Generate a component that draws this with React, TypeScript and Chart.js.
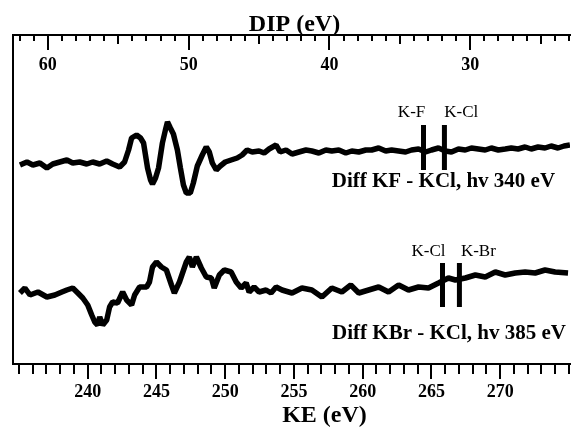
import React, { useEffect, useRef } from 'react';
import { Chart, registerables } from 'chart.js';

Chart.register(...registerables);

// ---- Data ----
// Kinetic energy (eV) and difference signal (arb. units) for Diff KF - KCl, hv 340 eV
const KE_KF = [
  235.07, 235.58, 236.01, 236.52, 237.03, 237.46, 237.97, 238.48, 238.91, 239.42,
  239.93, 240.36, 240.87, 241.38, 241.81, 242.32, 242.68, 242.97, 243.19, 243.55,
  243.84, 244.06, 244.35, 244.57, 244.71, 244.93, 245.15, 245.43, 245.65, 245.8,
  246.01, 246.23, 246.52, 246.74, 246.96, 247.17, 247.46, 247.68, 247.97, 248.33,
  248.62, 248.84, 249.06, 249.35, 249.64, 250.0, 250.43, 250.87, 251.23, 251.59,
  251.96, 252.46, 252.83, 253.19, 253.7, 253.99, 254.42, 254.86, 255.36, 255.87,
  256.3, 256.81, 257.32, 257.75, 258.26, 258.77, 259.2, 259.71, 260.22, 260.65,
  261.16, 261.67, 262.1, 262.61, 263.12, 263.55, 264.06, 264.57, 265.0, 265.51,
  266.01, 266.45, 266.96, 267.46, 267.9, 268.41, 268.91, 269.35, 269.86, 270.36,
  270.8, 271.3, 271.81, 272.25, 272.75, 273.26, 273.7, 274.2, 274.64, 275.07,
];
const DIFF_KF = [
  199, 202, 199, 201, 196, 200, 202, 204, 201, 202,
  200, 202, 200, 203, 200, 197, 202, 214, 226, 229,
  226, 221, 196, 184, 180, 186, 196, 221, 234, 242,
  236, 230, 214, 196, 179, 171, 171, 181, 198, 209,
  217, 212, 201, 194, 198, 202, 204, 206, 209, 214,
  212, 213, 211, 215, 219, 212, 214, 210, 212, 214,
  213, 211, 214, 213, 214, 211, 213, 212, 214, 214,
  216, 213, 214, 213, 212, 214, 215, 212, 214, 216,
  213, 212, 215, 214, 216, 215, 214, 216, 214, 215,
  216, 215, 217, 215, 217, 216, 218, 216, 218, 219,
];

// Kinetic energy (eV) and difference signal (arb. units) for Diff KBr - KCl, hv 385 eV
const KE_KBR = [
  235.07, 235.43, 235.8, 236.38, 237.03, 237.61, 238.12, 238.48, 238.91, 239.28,
  239.64, 240.0, 240.29, 240.51, 240.72, 240.87, 241.09, 241.38, 241.59, 241.81,
  242.17, 242.54, 242.83, 243.19, 243.41, 243.77, 244.28, 244.49, 244.71, 245.0,
  245.36, 245.72, 246.09, 246.3, 246.67, 247.17, 247.39, 247.61, 247.9, 248.26,
  248.62, 248.99, 249.2, 249.57, 249.93, 250.43, 250.8, 251.16, 251.52, 251.74,
  252.1, 252.46, 252.97, 253.33, 253.7, 254.13, 254.86, 255.58, 256.3, 257.03,
  257.75, 258.48, 259.13, 259.71, 260.43, 261.16, 261.88, 262.61, 263.33, 264.06,
  264.78, 265.51, 266.23, 266.74, 267.46, 268.19, 268.91, 269.64, 270.36, 271.09,
  271.81, 272.54, 273.26, 273.99, 274.93,
];
const DIFF_KBR = [
  71, 76, 69, 72, 67, 69, 72, 74, 76, 71,
  66, 59, 49, 42, 39, 47, 39, 44, 57, 62,
  61, 72, 64, 59, 69, 77, 77, 82, 97, 102,
  97, 94, 79, 71, 82, 102, 107, 97, 107, 96,
  87, 86, 76, 89, 94, 92, 82, 76, 81, 72,
  77, 72, 74, 71, 77, 74, 71, 76, 74, 67,
  76, 72, 79, 71, 74, 77, 72, 79, 74, 77,
  76, 81, 86, 84, 86, 89, 87, 92, 89, 91,
  92, 91, 94, 92, 91,
];

// Reference bond markers (KE positions) and their vertical extent
const KF_MARKER_NAMES = ['K-F', 'K-Cl'];
const KF_MARKER_KE = [264.42, 265.94];
const KF_MARKER_SPAN = [194, 239];
const KBR_MARKER_NAMES = ['K-Cl', 'K-Br'];
const KBR_MARKER_KE = [265.8, 267.03];
const KBR_MARKER_SPAN = [57, 101];

// Axis ranges and labelled ticks
const KE_RANGE = [234.565, 275.07];
const DIP_RANGE = [22.92, 62.476];
const KE_TICK_LABELS = [240, 245, 250, 255, 260, 265, 270];
const DIP_TICK_LABELS = [60, 50, 40, 30];
const SIGNAL_RANGE = [0, 329];

const SERIF = "'Liberation Serif', 'Times New Roman', serif";

type Note = { text: string; ke: number; v: number; bold: boolean; size: number; align: CanvasTextAlign };
const NOTES: Note[] = [
  { text: 'K-F', ke: 263.55, v: 251, bold: false, size: 17, align: 'center' },
  { text: 'K-Cl', ke: 267.17, v: 251, bold: false, size: 17, align: 'center' },
  { text: 'Diff KF - KCl, hv 340 eV', ke: 273.99, v: 182, bold: true, size: 21, align: 'right' },
  { text: 'K-Cl', ke: 264.78, v: 112, bold: false, size: 17, align: 'center' },
  { text: 'K-Br', ke: 268.41, v: 112, bold: false, size: 17, align: 'center' },
  { text: 'Diff KBr - KCl, hv 385 eV', ke: 274.78, v: 30, bold: true, size: 21, align: 'right' },
];

function integerTicks(scale: any) {
  const out: { value: number }[] = [];
  for (let v = Math.ceil(scale.min); v <= Math.floor(scale.max); v++) out.push({ value: v });
  scale.ticks = out;
}

export default function App() {
  const ref = useRef<HTMLCanvasElement>(null);

  useEffect(() => {
    if (!ref.current) return;

    const lineStyle = {
      borderColor: '#000',
      borderWidth: 5.5,
      pointRadius: 0,
      tension: 0,
      borderJoinStyle: 'bevel' as const,
      borderCapStyle: 'butt' as const,
      fill: false,
      xAxisID: 'x',
      yAxisID: 'y',
    };

    const datasets: any[] = [
      { ...lineStyle, label: 'Diff KF - KCl', data: KE_KF.map((x, i) => ({ x, y: DIFF_KF[i] })) },
      { ...lineStyle, label: 'Diff KBr - KCl', data: KE_KBR.map((x, i) => ({ x, y: DIFF_KBR[i] })) },
    ];
    KF_MARKER_KE.forEach((ke, i) => {
      datasets.push({ ...lineStyle, borderWidth: 5, label: KF_MARKER_NAMES[i], data: KF_MARKER_SPAN.map((y) => ({ x: ke, y })) });
    });
    KBR_MARKER_KE.forEach((ke, i) => {
      datasets.push({ ...lineStyle, borderWidth: 5, label: KBR_MARKER_NAMES[i], data: KBR_MARKER_SPAN.map((y) => ({ x: ke, y })) });
    });

    const notesPlugin = {
      id: 'notes',
      afterDatasetsDraw(chart: any) {
        const { ctx } = chart;
        const xs = chart.scales.x;
        const ys = chart.scales.y;
        ctx.save();
        ctx.fillStyle = '#000';
        ctx.textBaseline = 'middle';
        NOTES.forEach((n) => {
          ctx.font = `${n.bold ? 'bold ' : ''}${n.size}px ${SERIF}`;
          ctx.textAlign = n.align;
          ctx.fillText(n.text, xs.getPixelForValue(n.ke), ys.getPixelForValue(n.v));
        });
        ctx.restore();
      },
    };

    const chart = new Chart(ref.current, {
      type: 'line',
      data: { datasets },
      plugins: [notesPlugin],
      options: {
        animation: false,
        responsive: false,
        parsing: false as any,
        normalized: true,
        layout: { padding: 0 },
        plugins: { legend: { display: false }, tooltip: { enabled: false } },
        scales: {
          x: {
            type: 'linear',
            position: 'bottom',
            min: KE_RANGE[0],
            max: KE_RANGE[1],
            bounds: 'data',
            afterBuildTicks: integerTicks,
            afterFit: (s: any) => { s.height = 69; },
            ticks: {
              autoSkip: false,
              maxRotation: 0,
              minRotation: 0,
              padding: 3,
              color: '#000',
              font: { family: SERIF, size: 18, weight: 'bold' },
              callback: (v: any) => (KE_TICK_LABELS.includes(Math.round(v)) ? String(Math.round(v)) : ''),
            },
            grid: {
              drawOnChartArea: false,
              drawTicks: true,
              tickLength: 15,
              tickWidth: 2,
              lineWidth: 2,
              tickColor: '#000',
              tickBorderDash: (c: any) => {
                const v = Math.round(c.tick.value);
                return KE_TICK_LABELS.includes(v) ? [] : [9, 100];
              },
            },
            border: { display: true, color: '#000', width: 2 },
            title: {
              display: true,
              text: '\u00A0'.repeat(11) + 'KE (eV)',
              color: '#000',
              font: { family: SERIF, size: 24, weight: 'bold' },
              padding: { top: 0, bottom: 3 },
            },
          },
          x2: {
            type: 'linear',
            position: 'top',
            reverse: true,
            min: DIP_RANGE[0],
            max: DIP_RANGE[1],
            bounds: 'data',
            afterBuildTicks: integerTicks,
            afterFit: (s: any) => { s.height = 35; },
            ticks: {
              autoSkip: false,
              mirror: true,
              maxRotation: 0,
              minRotation: 0,
              padding: 20,
              color: '#000',
              font: { family: SERIF, size: 18, weight: 'bold' },
              callback: (v: any) => (DIP_TICK_LABELS.includes(Math.round(v)) ? String(Math.round(v)) : ''),
            },
            grid: {
              drawOnChartArea: false,
              drawTicks: true,
              tickLength: -15,
              tickWidth: 2,
              lineWidth: 2,
              tickColor: '#000',
              tickBorderDash: (c: any) => {
                const v = Math.round(c.tick.value);
                if (v % 10 === 0) return [];
                if (v % 5 === 0) return [0, 6, 10, 100];
                return [0, 9, 7, 100];
              },
            },
            border: { display: true, color: '#000', width: 2 },
            title: {
              display: true,
              text: '\u00A0' + 'DIP (eV)',
              color: '#000',
              font: { family: SERIF, size: 24, weight: 'bold' },
              padding: { top: 10, bottom: 0 },
            },
          },
          y: {
            type: 'linear',
            position: 'left',
            min: SIGNAL_RANGE[0],
            max: SIGNAL_RANGE[1],
            afterFit: (s: any) => { s.width = 13; },
            ticks: { display: false },
            grid: { drawOnChartArea: false, drawTicks: false },
            border: { display: true, color: '#000', width: 2 },
          },
        },
      } as any,
    });

    return () => chart.destroy();
  }, []);

  return (
    <div style={{ position: 'fixed', left: 0, top: 0, width: 572, height: 433, background: '#fff' }}>
      <canvas ref={ref} width={572} height={433} style={{ display: 'block' }} />
    </div>
  );
}
